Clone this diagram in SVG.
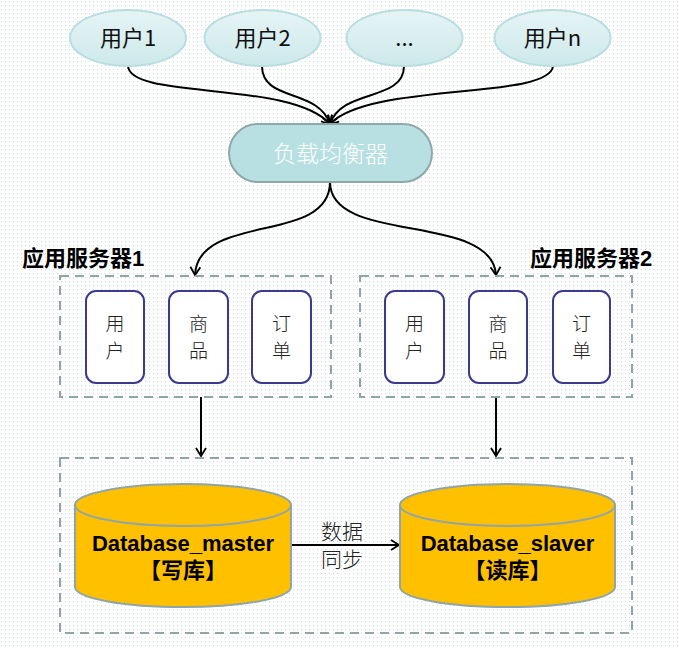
<svg xmlns="http://www.w3.org/2000/svg" width="679" height="649" viewBox="0 0 679 649">
<defs>
<pattern id="dots" width="4" height="4" patternUnits="userSpaceOnUse"><rect width="4" height="4" fill="#ffffff"/><rect x="1" y="1" width="1" height="1" fill="#c9dadc"/></pattern>
<linearGradient id="ug" x1="0" y1="0" x2="0" y2="1"><stop offset="0" stop-color="#e6f4f5"/><stop offset="1" stop-color="#cde9eb"/></linearGradient>
<marker id="ah" markerWidth="12" markerHeight="12" refX="10" refY="6" orient="auto" markerUnits="userSpaceOnUse"><path d="M2,1 L10,6 L2,11" fill="none" stroke="#000" stroke-width="1.8"/></marker>
<style>
.user{fill:url(#ug);stroke:#b9dde0;stroke-width:2}
.ut{font-family:"Noto Sans CJK SC","Liberation Sans",sans-serif;font-size:22px;fill:#111;text-anchor:middle}
.dash{fill:none;stroke:#8fa5a7;stroke-width:2;stroke-dasharray:9,6}
.svc{fill:#fff;stroke:#3c3a8e;stroke-width:2}
.st{font-family:"Noto Sans CJK SC",serif;font-size:19px;fill:#222;text-anchor:middle;font-weight:300}
.sy{font-family:"Noto Sans CJK SC",serif;font-size:21px;fill:#222;text-anchor:middle;font-weight:300}
.lbl{font-family:"Liberation Sans","Noto Sans CJK SC",sans-serif;font-size:22px;font-weight:bold;fill:#000}
.conn{fill:none;stroke:#000;stroke-width:2}
.cyl{fill:#ffc000;stroke:#8fa5a7;stroke-width:2}
.dbt{font-family:"Liberation Sans","Noto Sans CJK SC",sans-serif;font-size:22px;font-weight:bold;fill:#000;text-anchor:middle}
</style>
</defs>
<rect width="679" height="649" fill="url(#dots)"/>

<g id="connectors">
<path class="conn" d="M128,66 C130,100 290,80 330,124" marker-end="url(#ah)"/>
<path class="conn" d="M262,66 C262,102 318,88 330,124" marker-end="url(#ah)"/>
<path class="conn" d="M404,66 C404,102 342,88 330,124" marker-end="url(#ah)"/>
<path class="conn" d="M553,66 C550,100 370,82 330,124" marker-end="url(#ah)"/>
<path class="conn" d="M330,182 C330,245 198,212 195,275" marker-end="url(#ah)"/>
<path class="conn" d="M330,182 C330,245 492,212 496,275" marker-end="url(#ah)"/>
<path class="conn" d="M201,397 L201,456" marker-end="url(#ah)"/>
<path class="conn" d="M496,397 L496,456" marker-end="url(#ah)"/>
<path class="conn" d="M291,545 L399,545" marker-end="url(#ah)"/>
</g>

<g id="user1"><ellipse class="user" cx="128" cy="38" rx="58" ry="28"/><text class="ut" x="128" y="46">用户1</text></g>
<g id="user2"><ellipse class="user" cx="262.5" cy="38" rx="58" ry="28"/><text class="ut" x="262.5" y="46">用户2</text></g>
<g id="userdots"><ellipse class="user" cx="404.5" cy="38" rx="58" ry="28"/><text class="ut" x="404.5" y="46">...</text></g>
<g id="usern"><ellipse class="user" cx="552.5" cy="38" rx="58" ry="28"/><text class="ut" x="552.5" y="46">用户n</text></g>

<g id="lb"><rect x="229" y="124" width="203" height="58" rx="29" fill="#b8dfe2" stroke="#8ea8aa" stroke-width="2"/><text x="330.5" y="162" font-family="Noto Sans CJK SC,sans-serif" font-size="23" fill="#fff" text-anchor="middle" font-weight="300">负载均衡器</text></g>

<g id="server1">
<text class="lbl" x="22" y="266">应用服务器1</text>
<rect class="dash" x="60" y="276" width="271" height="121"/>
<rect class="svc" x="86" y="291" width="58" height="92" rx="10"/><text class="st" x="115" y="331">用</text><text class="st" x="115" y="358">户</text>
<rect class="svc" x="169" y="291" width="59" height="92" rx="10"/><text class="st" x="198.5" y="331">商</text><text class="st" x="198.5" y="358">品</text>
<rect class="svc" x="252" y="291" width="59" height="92" rx="10"/><text class="st" x="281.5" y="331">订</text><text class="st" x="281.5" y="358">单</text>
</g>

<g id="server2">
<text class="lbl" x="530" y="266">应用服务器2</text>
<rect class="dash" x="360" y="276" width="272" height="121"/>
<rect class="svc" x="385" y="291" width="59" height="92" rx="10"/><text class="st" x="414.5" y="331">用</text><text class="st" x="414.5" y="358">户</text>
<rect class="svc" x="469" y="291" width="58" height="92" rx="10"/><text class="st" x="498" y="331">商</text><text class="st" x="498" y="358">品</text>
<rect class="svc" x="553" y="291" width="57" height="92" rx="10"/><text class="st" x="581.5" y="331">订</text><text class="st" x="581.5" y="358">单</text>
</g>

<g id="dbgroup"><rect class="dash" x="60" y="458" width="572" height="175"/></g>

<g id="master">
<path class="cyl" d="M75,505 L75,587 A108,20 0 0 0 291,587 L291,505"/>
<ellipse class="cyl" cx="183" cy="505" rx="108" ry="21"/>
<text class="dbt" x="183" y="551">Database_master</text>
<text class="dbt" x="183" y="578">【写库】</text>
</g>

<g id="slave">
<path class="cyl" d="M400,505 L400,587 A107.5,20 0 0 0 615,587 L615,505"/>
<ellipse class="cyl" cx="507.5" cy="505" rx="107.5" ry="21"/>
<text class="dbt" x="507.5" y="551">Database_slaver</text>
<text class="dbt" x="507.5" y="578">【读库】</text>
</g>

<g id="synclabel">
<text class="sy" x="342" y="539">数据</text>
<text class="sy" x="342" y="567">同步</text>
</g>
</svg>
